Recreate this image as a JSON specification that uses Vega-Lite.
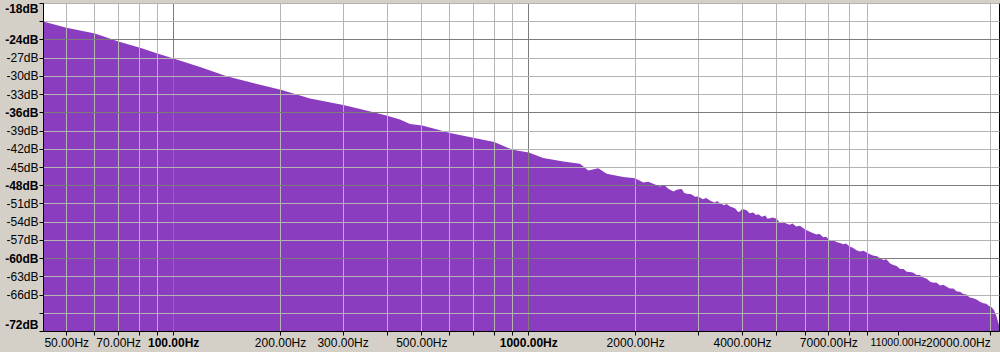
{
  "$schema": "https://vega.github.io/schema/vega-lite/v6.json",
  "width": 956,
  "height": 328,
  "autosize": {"type": "none"},
  "padding": {"left": 43, "top": 3, "right": 1, "bottom": 21},
  "background": "#d4d0c8",
  "config": {
    "font": "Liberation Sans",
    "view": {"fill": "#ffffff", "stroke": "#000000", "strokeWidth": 1}
  },
  "data": {
    "values": [
      {"hz": 43, "db": -21.04},
      {"hz": 50.1, "db": -22.07},
      {"hz": 60.2, "db": -23.02},
      {"hz": 70.5, "db": -24.39},
      {"hz": 80.7, "db": -25.38},
      {"hz": 90.8, "db": -26.37},
      {"hz": 100.7, "db": -27.17},
      {"hz": 119, "db": -28.54},
      {"hz": 141.5, "db": -30.06},
      {"hz": 170, "db": -31.27},
      {"hz": 202, "db": -32.34},
      {"hz": 242.9, "db": -33.74},
      {"hz": 301.5, "db": -34.81},
      {"hz": 343, "db": -35.56},
      {"hz": 400.9, "db": -36.55},
      {"hz": 435.3, "db": -37.2},
      {"hz": 464.5, "db": -37.92},
      {"hz": 503, "db": -38.15},
      {"hz": 564, "db": -38.97},
      {"hz": 602, "db": -39.4},
      {"hz": 705, "db": -40.23},
      {"hz": 802, "db": -40.89},
      {"hz": 904, "db": -42.16},
      {"hz": 1003, "db": -42.6},
      {"hz": 1102, "db": -43.52},
      {"hz": 1255, "db": -44.08},
      {"hz": 1399, "db": -44.47},
      {"hz": 1476, "db": -45.57},
      {"hz": 1575, "db": -45.21},
      {"hz": 1663, "db": -46.11},
      {"hz": 1852, "db": -46.66},
      {"hz": 1998, "db": -46.86},
      {"hz": 2109, "db": -47.55},
      {"hz": 2178, "db": -47.43},
      {"hz": 2350, "db": -48.21},
      {"hz": 2420, "db": -48.0},
      {"hz": 2480, "db": -48.6},
      {"hz": 2562, "db": -49.04},
      {"hz": 2630, "db": -48.7},
      {"hz": 2705, "db": -48.64},
      {"hz": 2750, "db": -49.3},
      {"hz": 2794, "db": -49.42},
      {"hz": 2880, "db": -49.5},
      {"hz": 2950, "db": -49.9},
      {"hz": 3012, "db": -49.86},
      {"hz": 3100, "db": -50.3},
      {"hz": 3170, "db": -50.1},
      {"hz": 3249, "db": -50.52},
      {"hz": 3350, "db": -50.9},
      {"hz": 3400, "db": -50.6},
      {"hz": 3466, "db": -50.95},
      {"hz": 3560, "db": -51.3},
      {"hz": 3620, "db": -51.1},
      {"hz": 3700, "db": -51.51},
      {"hz": 3820, "db": -51.8},
      {"hz": 3900, "db": -52.4},
      {"hz": 3947, "db": -52.33},
      {"hz": 4000, "db": -51.9},
      {"hz": 4060, "db": -52.0},
      {"hz": 4122, "db": -52.1},
      {"hz": 4200, "db": -52.6},
      {"hz": 4300, "db": -52.5},
      {"hz": 4380, "db": -52.9},
      {"hz": 4446, "db": -52.77},
      {"hz": 4550, "db": -53.2},
      {"hz": 4650, "db": -53.0},
      {"hz": 4720, "db": -53.5},
      {"hz": 4795, "db": -53.42},
      {"hz": 4880, "db": -53.3},
      {"hz": 5009, "db": -53.54},
      {"hz": 5100, "db": -54.1},
      {"hz": 5200, "db": -54.0},
      {"hz": 5345, "db": -54.36},
      {"hz": 5450, "db": -54.5},
      {"hz": 5550, "db": -54.3},
      {"hz": 5680, "db": -54.8},
      {"hz": 5827, "db": -54.69},
      {"hz": 5950, "db": -55.1},
      {"hz": 6080, "db": -55.4},
      {"hz": 6214, "db": -55.64},
      {"hz": 6350, "db": -55.9},
      {"hz": 6480, "db": -56.1},
      {"hz": 6600, "db": -56.0},
      {"hz": 6777, "db": -56.56},
      {"hz": 6900, "db": -56.5},
      {"hz": 7050, "db": -57.0},
      {"hz": 7229, "db": -57.0},
      {"hz": 7400, "db": -57.4},
      {"hz": 7551, "db": -57.5},
      {"hz": 7700, "db": -57.7},
      {"hz": 7850, "db": -57.6},
      {"hz": 8058, "db": -58.11},
      {"hz": 8200, "db": -58.3},
      {"hz": 8400, "db": -58.7},
      {"hz": 8597, "db": -58.93},
      {"hz": 8800, "db": -58.8},
      {"hz": 9013, "db": -59.15},
      {"hz": 9200, "db": -59.4},
      {"hz": 9400, "db": -59.6},
      {"hz": 9600, "db": -59.7},
      {"hz": 9787, "db": -60.02},
      {"hz": 10000, "db": -60.3},
      {"hz": 10200, "db": -60.2},
      {"hz": 10450, "db": -60.9},
      {"hz": 10670, "db": -61.13},
      {"hz": 10900, "db": -61.3},
      {"hz": 11150, "db": -61.8},
      {"hz": 11400, "db": -61.8},
      {"hz": 11640, "db": -62.23},
      {"hz": 11900, "db": -62.3},
      {"hz": 12150, "db": -62.4},
      {"hz": 12400, "db": -62.8},
      {"hz": 12680, "db": -62.78},
      {"hz": 12950, "db": -63.2},
      {"hz": 13250, "db": -63.4},
      {"hz": 13550, "db": -63.9},
      {"hz": 13830, "db": -64.05},
      {"hz": 14100, "db": -64.0},
      {"hz": 14450, "db": -64.5},
      {"hz": 14750, "db": -64.4},
      {"hz": 15080, "db": -64.71},
      {"hz": 15400, "db": -65.0},
      {"hz": 15750, "db": -65.0},
      {"hz": 16100, "db": -65.5},
      {"hz": 16440, "db": -65.53},
      {"hz": 16800, "db": -65.9},
      {"hz": 17150, "db": -66.0},
      {"hz": 17500, "db": -66.5},
      {"hz": 17920, "db": -66.62},
      {"hz": 18300, "db": -66.8},
      {"hz": 18700, "db": -67.2},
      {"hz": 19120, "db": -67.45},
      {"hz": 19500, "db": -67.5},
      {"hz": 19850, "db": -67.9},
      {"hz": 20190, "db": -68.11},
      {"hz": 20500, "db": -68.6},
      {"hz": 20850, "db": -69.66},
      {"hz": 21000, "db": -70.3},
      {"hz": 21170, "db": -71.03}
    ]
  },
  "mark": {"type": "area", "color": "#8a3dbf", "interpolate": "linear", "clip": true},
  "encoding": {
    "x": {
      "field": "hz",
      "type": "quantitative",
      "scale": {"type": "log", "domain": [43, 21170], "nice": false},
      "axis": {
        "title": null,
        "zindex": 1,
        "values": [50, 60, 70, 80, 90, 100, 200, 300, 400, 500, 600, 700, 800, 900, 1000, 2000, 3000, 4000, 5000, 6000, 7000, 8000, 9000, 11000, 20000],
        "labelExpr": "indexof([50,70,100,200,300,500,1000,2000,4000,7000,11000,20000], datum.value) >= 0 ? datum.value + '.00Hz' : ''",
        "labelOverlap": false,
        "labelFlush": 10,
        "labelColor": "#000000",
        "labelFontSize": {"condition": {"test": "datum.value == 11000", "value": 10.5}, "value": 12},
        "labelFontWeight": {"condition": {"test": "datum.value == 100 || datum.value == 1000", "value": "bold"}, "value": "normal"},
        "labelPadding": 2,
        "tickSize": 4,
        "tickColor": "#000000",
        "domainColor": "#000000",
        "grid": true,
        "gridColor": {"condition": {"test": "datum.value == 100 || datum.value == 1000", "value": "#7c7c7c"}, "value": "#b4b4b4"},
        "gridOpacity": {"condition": {"test": "datum.value == 11000", "value": 0}, "value": 1}
      }
    },
    "y": {
      "field": "db",
      "type": "quantitative",
      "scale": {"domain": [-72, -18], "nice": false, "zero": false},
      "axis": {
        "title": null,
        "zindex": 1,
        "values": [-18, -21, -24, -27, -30, -33, -36, -39, -42, -45, -48, -51, -54, -57, -60, -63, -66, -69, -72],
        "labelExpr": "datum.value == -21 || datum.value == -69 ? '' : datum.value + 'dB'",
        "labelOverlap": false,
        "labelFlush": true,
        "labelColor": "#000000",
        "labelFontSize": 12,
        "labelFontWeight": {"condition": {"test": "datum.value % 12 == 0 || datum.value == -18", "value": "bold"}, "value": "normal"},
        "labelPadding": 1,
        "tickSize": 4,
        "tickColor": "#000000",
        "domainColor": "#000000",
        "grid": true,
        "gridColor": {"condition": {"test": "datum.value % 12 == 0", "value": "#7c7c7c"}, "value": "#b4b4b4"}
      }
    },
    "y2": {"datum": -72}
  }
}
